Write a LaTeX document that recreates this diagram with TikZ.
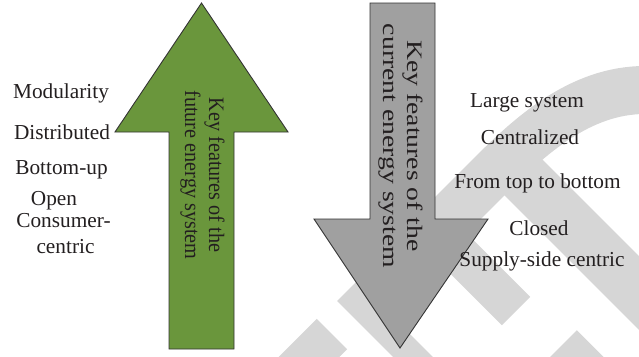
\documentclass[tikz,border=0pt]{standalone}
\usepackage{fontspec}
\setmainfont{Liberation Serif}
\definecolor{arrowgreen}{RGB}{106,150,60}
\definecolor{arrowgray}{RGB}{160,160,160}
\definecolor{wmgray}{RGB}{214,214,214}
\definecolor{textcol}{RGB}{35,31,32}
\begin{document}
\begin{tikzpicture}[x=1pt,y=-1pt,
  lbl/.style={text=textcol, font=\fontsize{21.3}{24}\selectfont, inner sep=0pt, anchor=base},
  arrowtext/.style={text=textcol, font=\fontsize{22}{24}\selectfont, inner sep=0pt, rotate=-90},
  wm/.style={draw=wmgray, line cap=butt, line join=miter},
  arrowbody/.style={draw=black!80, line width=0.9pt, line join=miter}]
\useasboundingbox (0,0) rectangle (639,356);
% watermark bands
\draw[wm, line width=48pt] (445,221) -- (490,176) .. controls (530,136) and (580,90) .. (645,90);
\draw[wm, line width=52pt] (500,154) -- (660,314);
\draw[wm, line width=40pt] (425,220) -- (516,311);
\draw[wm, line width=28pt] (347,291) -- (430,374);
\draw[wm, line width=43pt] (332,334) -- (280,386);
\draw[wm, line width=42pt] (562,345) -- (650,433);
% green arrow (future)
\coordinate (gtip) at (201.5,3);
\draw[arrowbody, fill=arrowgreen] (gtip) -- (288,132) -- (234,132) -- (234,349) -- (169,349) -- (169,132) -- (115,132) -- cycle;
% grey arrow (current)
\coordinate (ctip) at (400,348);
\draw[arrowbody, fill=arrowgray] (370,3) -- (435,3) -- (435,219) -- (488,219) -- (ctip) -- (314,219) -- (370,219) -- cycle;
% arrow texts
\node[arrowtext] (future) at (202,175) {\scalebox{0.92}[1]{\begin{tabular}{@{}c@{}}Key features of the\\future energy system\end{tabular}}};
\node[arrowtext] (current) at (400,146) {\scalebox{1.26}[1]{\begin{tabular}{@{}c@{}}Key features of the\\current energy system\end{tabular}}};
% left labels
\node[lbl] (modularity) at (61,98) {Modularity};
\node[lbl] (distributed) at (62,139.5) {Distributed};
\node[lbl] (bottomup) at (61.5,174) {Bottom-up};
\node[lbl] (open) at (54,205) {Open};
\node[lbl] (consumer) at (63.5,227.7) {Consumer-};
\node[lbl] (centric) at (65.5,253) {centric};
% right labels
\node[lbl] (large) at (527,107) {Large system};
\node[lbl] (centralized) at (530,144) {Centralized};
\node[lbl] (toptobottom) at (537.5,188) {From top to bottom};
\node[lbl] (closed) at (539,235) {Closed};
\node[lbl] (supply) at (542,266.5) {Supply-side centric};
\end{tikzpicture}
\end{document}
